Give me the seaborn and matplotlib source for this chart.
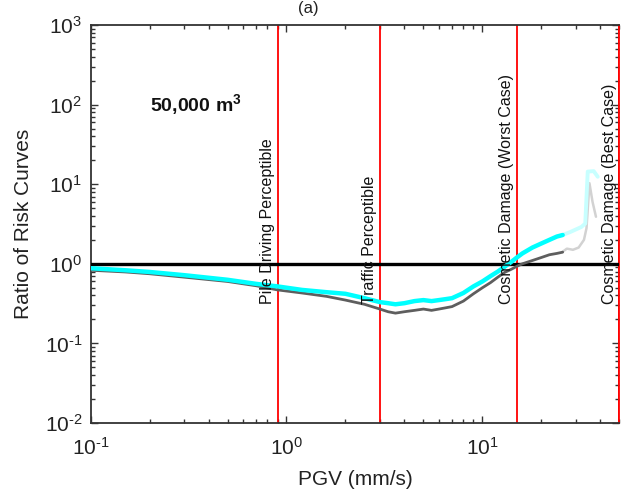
import matplotlib
matplotlib.use("Agg")
import matplotlib.pyplot as plt
import matplotlib.transforms as mtransforms
from matplotlib.ticker import LogLocator, FuncFormatter, NullFormatter
import seaborn as sns
import pandas as pd
import numpy as np

# ---------------- data ----------------
pgv = [0.1, 0.15, 0.2, 0.3, 0.5, 0.7, 0.9, 1.2, 1.6, 2.0, 2.5, 3.0, 3.3, 3.6,
       4.0, 4.5, 5.0, 5.5, 6.0, 6.5, 7.0, 8.0, 9.0, 10, 11, 12, 13, 14, 15,
       16, 18, 20, 22, 24, 25.7]
ratio_cyan = [0.88, 0.83, 0.79, 0.72, 0.63, 0.56, 0.52, 0.47, 0.44, 0.42, 0.37,
              0.33, 0.32, 0.31, 0.32, 0.34, 0.35, 0.34, 0.35, 0.36, 0.37, 0.43,
              0.52, 0.60, 0.70, 0.80, 0.92, 1.05, 1.20, 1.35, 1.60, 1.80, 2.00,
              2.20, 2.30]
ratio_gray = [0.83, 0.79, 0.75, 0.68, 0.60, 0.53, 0.47, 0.43, 0.39, 0.35, 0.31,
              0.27, 0.25, 0.24, 0.25, 0.26, 0.27, 0.26, 0.27, 0.28, 0.29, 0.34,
              0.42, 0.50, 0.58, 0.68, 0.78, 0.85, 0.93, 1.00, 1.10, 1.20, 1.30,
              1.35, 1.40]
tail_pgv_cyan = [25.7, 28, 30, 32, 33.5, 34.5, 37, 38.8]
tail_cyan = [2.30, 2.50, 2.70, 2.90, 3.20, 14.4, 14.6, 12.4]
tail_pgv_gray = [25.7, 27, 29, 31, 33, 34, 35.2, 36.5, 38.0]
tail_gray = [1.42, 1.55, 1.50, 1.60, 2.00, 2.80, 10.3, 6.0, 3.9]

threshold_pgv = [0.9, 3.0, 15.0, 50.0]
threshold_labels = ["Pile Driving Perceptible", "Traffic Perceptible",
                    "Cosmetic Damage (Worst Case)", "Cosmetic Damage (Best Case)"]

# ---------------- style ----------------
sns.set_style("ticks")
plt.rcParams["font.family"] = ["Liberation Sans", "DejaVu Sans"]
plt.rcParams["mathtext.fontset"] = "custom"
plt.rcParams["mathtext.rm"] = "Liberation Sans"
plt.rcParams["mathtext.it"] = "Liberation Sans:italic"
plt.rcParams["mathtext.bf"] = "Liberation Sans:bold"
plt.rcParams["axes.unicode_minus"] = False

fig = plt.figure(figsize=(6.29, 4.98), dpi=100)
ax = fig.add_axes([0.144, 0.1506, 0.8406, 0.7992])
ax.set_xscale("log")
ax.set_yscale("log")
ax.set_xlim(0.1, 50)
ax.set_ylim(0.01, 1000)

# threshold lines
for xv in threshold_pgv:
    ax.axvline(xv, color="red", lw=1.3, zorder=2)
ax.axhline(1.0, color="black", lw=2.4, zorder=3)

main = pd.DataFrame({"pgv": pgv, "cyan": ratio_cyan, "gray": ratio_gray})
tc = pd.DataFrame({"pgv": tail_pgv_cyan, "v": tail_cyan})
tg = pd.DataFrame({"pgv": tail_pgv_gray, "v": tail_gray})

sns.lineplot(data=tg, x="pgv", y="v", ax=ax, color="#d2d2d2", lw=1.8, zorder=4)
sns.lineplot(data=tc, x="pgv", y="v", ax=ax, color="#c8ffff", lw=2.8, zorder=4)
sns.lineplot(data=main, x="pgv", y="gray", ax=ax, color="#5e5e5e", lw=2.0, zorder=5)
sns.lineplot(data=main, x="pgv", y="cyan", ax=ax, color="#00ffff", lw=3.2, zorder=6)

# threshold labels
off = mtransforms.ScaledTranslation(-2.5 / 100, 0, fig.dpi_scale_trans)
for xv, lab in zip(threshold_pgv, threshold_labels):
    ax.text(xv, 0.31, lab, rotation=90, ha="right", va="bottom", fontsize=11.5,
            color="#111111", transform=ax.transData + off, zorder=7)

ax.text(0.2, 100, "50,000 m$^{\\mathbf{3}}$", fontsize=14, fontweight="bold",
        ha="left", va="center", color="#111111")


def pow_fmt(v, pos):
    e = int(round(np.log10(v)))
    return "$\\mathdefault{10^{\\text{%d}}}$" % e


# axes cosmetics
for s in ax.spines.values():
    s.set_color("#333333")
    s.set_linewidth(1.3)
ax.spines["right"].set_color("red")
ax.xaxis.set_major_locator(LogLocator(base=10, numticks=10))
ax.yaxis.set_major_locator(LogLocator(base=10, numticks=10))
ax.xaxis.set_minor_locator(LogLocator(base=10, subs=range(2, 10), numticks=20))
ax.yaxis.set_minor_locator(LogLocator(base=10, subs=range(2, 10), numticks=20))
ax.xaxis.set_major_formatter(FuncFormatter(pow_fmt))
ax.yaxis.set_major_formatter(FuncFormatter(pow_fmt))
ax.xaxis.set_minor_formatter(NullFormatter())
ax.yaxis.set_minor_formatter(NullFormatter())
ax.tick_params(which="both", direction="in", top=True, right=True,
               color="#333333", width=1.0)
ax.tick_params(which="major", length=5, labelsize=15, labelcolor="#222222")
ax.tick_params(which="minor", length=3)
ax.tick_params(axis="x", which="major", pad=10)
ax.tick_params(axis="y", which="major", pad=6)

ax.set_xlabel("PGV (mm/s)", fontsize=15, color="#222222", labelpad=8)
ax.set_ylabel("Ratio of Risk Curves", fontsize=15, color="#222222", labelpad=8)

fig.text(0.49, 0.998, "(a)", fontsize=12, ha="center", va="top", color="#222222")

fig.savefig("out.png", dpi=100)
